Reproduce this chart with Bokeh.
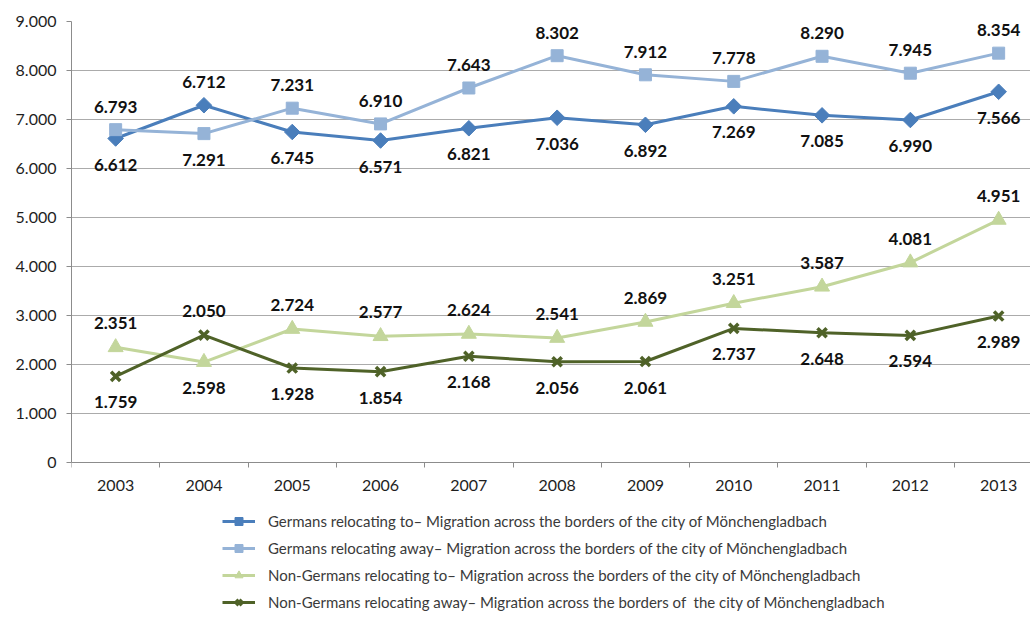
import numpy as np
from bokeh.plotting import figure
from bokeh.models import (Range1d, FixedTicker, Legend, LegendItem, ColumnDataSource)
from bokeh.core.properties import value
from bokeh.embed import file_html
from bokeh.resources import INLINE

years = [2003, 2004, 2005, 2006, 2007, 2008, 2009, 2010, 2011, 2012, 2013]
germans_to = [6612, 7291, 6745, 6571, 6821, 7036, 6892, 7269, 7085, 6990, 7566]
germans_away = [6793, 6712, 7231, 6910, 7643, 8302, 7912, 7778, 8290, 7945, 8354]
nongermans_to = [2351, 2050, 2724, 2577, 2624, 2541, 2869, 3251, 3587, 4081, 4951]
nongermans_away = [1759, 2598, 1928, 1854, 2168, 2056, 2061, 2737, 2648, 2594, 2989]
y_ticks = [0, 1000, 2000, 3000, 4000, 5000, 6000, 7000, 8000, 9000]
y_tick_labels = ["0", "1.000", "2.000", "3.000", "4.000", "5.000", "6.000", "7.000", "8.000", "9.000"]
series_names = [
    "Germans relocating to\u2013 Migration across the borders of the city of M\u00f6nchengladbach",
    "Germans relocating away\u2013 Migration across the borders of the city of M\u00f6nchengladbach",
    "Non-Germans relocating to\u2013 Migration across the borders of the city of M\u00f6nchengladbach",
    "Non-Germans relocating away\u2013 Migration across the borders of  the city of M\u00f6nchengladbach",
]

FONT = "Lato"
C1, C2, C3, C4 = "#4a7ebb", "#95b3d7", "#c3d69b", "#4f6228"

def fmt(v):
    return f"{v:,}".replace(",", ".")

FW = 959          # frame width in px
FH = 596          # frame height in px (chart area + room for legend below)
PLOT_H = 441      # px from 9.000 down to 0
y_bottom = -(FH - PLOT_H) * 9000 / PLOT_H

p = figure(frame_width=FW, frame_height=FH, output_backend="svg", toolbar_location=None,
           x_range=Range1d(2002.5, 2002.5 + FW / 88.3), y_range=Range1d(y_bottom, 9000),
           min_border_left=71, min_border_top=21, min_border_right=0, min_border_bottom=0)
p.outline_line_color = None
p.background_fill_color = "white"
p.border_fill_color = "white"

# x axis drawn at y = 0
p.xaxis.fixed_location = 0
p.xaxis.ticker = FixedTicker(ticks=years, minor_ticks=[y + 0.5 for y in [2002] + years])
p.xaxis.major_tick_line_color = None
p.xaxis.major_tick_out = 0
p.xaxis.major_tick_in = 0
p.xaxis.minor_tick_out = 5
p.xaxis.minor_tick_in = 0
p.xaxis.minor_tick_line_color = "#8c8c8c"
p.xaxis.axis_line_color = "#8c8c8c"
p.xaxis.major_label_standoff = 12
p.xgrid.grid_line_color = None

p.yaxis.ticker = FixedTicker(ticks=y_ticks)
p.yaxis.bounds = (0, 9000)
p.yaxis.major_label_overrides = {t: l for t, l in zip(y_ticks, y_tick_labels)}
p.yaxis.major_tick_out = 5
p.yaxis.major_tick_in = 0
p.yaxis.minor_tick_line_color = None
p.yaxis.major_tick_line_color = "#8c8c8c"
p.yaxis.axis_line_color = "#8c8c8c"
p.yaxis.major_label_standoff = 10
p.ygrid.ticker = FixedTicker(ticks=y_ticks)
p.ygrid.grid_line_color = "#ababab"
p.ygrid.grid_line_width = 1

for ax in (p.xaxis, p.yaxis):
    ax.major_label_text_font = FONT
    ax.major_label_text_font_size = "16px"
    ax.major_label_text_color = "#1e1e1e"

l1 = p.line(years, germans_to, line_color=C1, line_width=3)
m1 = p.scatter(years, germans_to, marker="square", angle=np.pi / 4, size=11,
               fill_color=C1, line_color=C1)
l2 = p.line(years, germans_away, line_color=C2, line_width=3)
m2 = p.scatter(years, germans_away, marker="square", size=12, fill_color=C2, line_color=C2)
l3 = p.line(years, nongermans_to, line_color=C3, line_width=3)
m3 = p.scatter(years, nongermans_to, marker="triangle", size=15, fill_color=C3, line_color=C3)
l4 = p.line(years, nongermans_away, line_color=C4, line_width=3)
m4 = p.scatter(years, nongermans_away, marker="x", size=13, line_color=C4, line_width=3.5)

ga = np.array(germans_to); gw = np.array(germans_away)
nt = np.array(nongermans_to); nw = np.array(nongermans_away)
label_sets = [
    (np.maximum(ga, gw), [fmt(v) for v in germans_away], -23),
    (np.minimum(ga, gw), [fmt(v) for v in germans_to], 26),
    (np.maximum(nt, nw), [fmt(v) for v in nongermans_to], -24),
    (np.minimum(nt, nw), [fmt(v) for v in nongermans_away], 26),
]
for ys, txts, off in label_sets:
    src = ColumnDataSource(dict(x=years, y=list(ys), t=txts))
    p.text("x", "y", text="t", source=src, text_align="center", text_baseline="middle",
           y_offset=off, text_font=value(FONT), text_font_style="bold",
           text_font_size="17px", text_color="#111111")

legend = Legend(items=[
    LegendItem(label=series_names[0], renderers=[l1, m1]),
    LegendItem(label=series_names[1], renderers=[l2, m2]),
    LegendItem(label=series_names[2], renderers=[l3, m3]),
    LegendItem(label=series_names[3], renderers=[l4, m4]),
], location=(151, 5), orientation="vertical")
legend.padding = 0
legend.margin = 0
legend.spacing = 7
legend.glyph_width = 33
legend.glyph_height = 20
legend.label_height = 20
legend.label_standoff = 13
legend.label_text_font = FONT
legend.label_text_font_size = "15px"
legend.label_text_color = "#3a3a3a"
legend.border_line_color = None
legend.background_fill_alpha = 0
p.add_layout(legend, "center")

open("out.html", "w").write(file_html(p, INLINE))
